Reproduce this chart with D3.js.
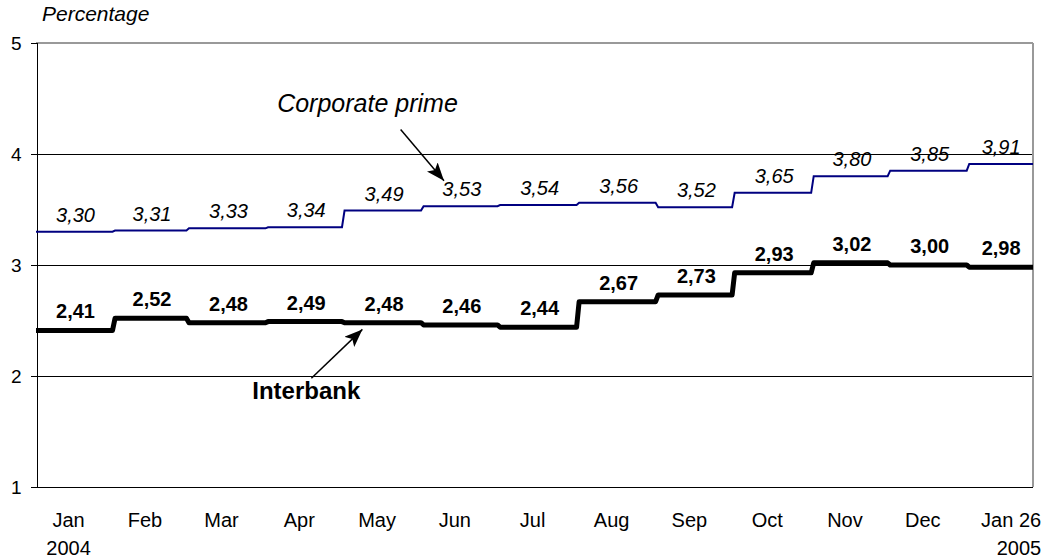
<!DOCTYPE html>
<html>
<head>
<meta charset="utf-8">
<script src="https://cdn.jsdelivr.net/npm/d3@7"></script>
<style>
  body { margin: 0; background: #fff; }
  svg { display: block; font-family: Arial, "Liberation Sans", sans-serif; }
</style>
</head>
<body>
<div id="chart"></div>
<script>
(function () {
  "use strict";

  /***** Data *****/
  var monthStarts = ["2004-01-01", "2004-02-01", "2004-03-01", "2004-04-01", "2004-05-01",
                     "2004-06-01", "2004-07-01", "2004-08-01", "2004-09-01", "2004-10-01",
                     "2004-11-01", "2004-12-01", "2005-01-01"];
  var lastDay = "2005-01-26";
  var monthLabels = ["Jan", "Feb", "Mar", "Apr", "May", "Jun", "Jul", "Aug", "Sep", "Oct", "Nov", "Dec", "Jan 26"];
  var corporatePrime = [3.30, 3.31, 3.33, 3.34, 3.49, 3.53, 3.54, 3.56, 3.52, 3.65, 3.80, 3.85, 3.91];
  var interbank = [2.41, 2.52, 2.48, 2.49, 2.48, 2.46, 2.44, 2.67, 2.73, 2.93, 3.02, 3.00, 2.98];
  var yTicks = [1, 2, 3, 4, 5];

  /***** Configuration *****/
  var width = 1053, height = 560;
  var margin = {top: 43, right: 20, bottom: 73, left: 36};
  var parse = d3.timeParse("%Y-%m-%d");
  var fmt = function (v) { return d3.format(".2f")(v).replace(".", ","); };

  var starts = monthStarts.map(parse);
  var end = parse(lastDay);

  var x = d3.scaleTime()
    .domain([starts[0], end])
    .range([margin.left, width - margin.right]);

  var y = d3.scaleLinear()
    .domain([1, 5])
    .range([height - margin.bottom, margin.top]);

  // each month: from its first day to its last day (daily data -> short slope between months)
  function monthEnd(i) {
    return i < starts.length - 1 ? d3.timeDay.offset(starts[i + 1], -1) : end;
  }
  function monthMid(i) {
    var a = starts[i], b = i < starts.length - 1 ? starts[i + 1] : end;
    return new Date((a.getTime() + b.getTime()) / 2);
  }
  function stepPoints(values) {
    var pts = [];
    values.forEach(function (v, i) {
      pts.push([starts[i], v]);
      pts.push([monthEnd(i), v]);
    });
    return pts;
  }

  var line = d3.line()
    .x(function (d) { return x(d[0]); })
    .y(function (d) { return y(d[1]); });

  /***** Elements *****/
  var svg = d3.select("#chart")
    .append("svg")
    .attr("width", width)
    .attr("height", height);

  var defs = svg.append("defs");
  defs.append("marker")
    .attr("id", "arrow")
    .attr("markerUnits", "userSpaceOnUse")
    .attr("markerWidth", 20)
    .attr("markerHeight", 14)
    .attr("refX", 18)
    .attr("refY", 7)
    .attr("orient", "auto")
    .append("path")
    .attr("d", "M0,0 L18,7 L0,14 L4,7 Z")
    .attr("fill", "#000");

  var plotL = x.range()[0], plotR = x.range()[1];
  var snap = function (v) { return Math.round(v) + 0.5; };

  // gridlines
  svg.append("g")
    .selectAll("line")
    .data(yTicks.filter(function (t) { return t > 1 && t < 5; }))
    .enter().append("line")
    .attr("x1", plotL).attr("x2", plotR)
    .attr("y1", function (d) { return snap(y(d)); })
    .attr("y2", function (d) { return snap(y(d)); })
    .attr("stroke", "#000")
    .attr("stroke-width", 1)
    .attr("shape-rendering", "crispEdges");

  // frame: grey top and right, black left and bottom
  svg.append("line")
    .attr("x1", plotL).attr("x2", plotR)
    .attr("y1", y(5)).attr("y2", y(5))
    .attr("stroke", "#999").attr("stroke-width", 2);
  svg.append("line")
    .attr("x1", plotR).attr("x2", plotR)
    .attr("y1", y(5)).attr("y2", y(1))
    .attr("stroke", "#999").attr("stroke-width", 2);
  svg.append("line")
    .attr("x1", plotL).attr("x2", plotR)
    .attr("y1", snap(y(1))).attr("y2", snap(y(1)))
    .attr("stroke", "#000").attr("stroke-width", 1)
    .attr("shape-rendering", "crispEdges");

  // y axis
  var yAxis = svg.append("g")
    .attr("transform", "translate(" + snap(plotL) + ",0)")
    .call(d3.axisLeft(y).tickValues(yTicks).tickSize(6).tickPadding(9).tickFormat(d3.format("d")));
  yAxis.attr("shape-rendering", "crispEdges");
  yAxis.select(".domain").attr("stroke", "#000").attr("stroke-width", 1);
  yAxis.selectAll(".tick line").attr("stroke", "#000");
  yAxis.selectAll("text")
    .attr("font-size", 19)
    .attr("font-family", "Arial, 'Liberation Sans', sans-serif")
    .attr("fill", "#000");

  svg.append("text")
    .attr("x", plotL + 6)
    .attr("y", 21)
    .attr("font-size", 21)
    .attr("font-style", "italic")
    .text("Percentage");

  // x labels at month middles
  var xLab = svg.append("g");
  xLab.selectAll("text")
    .data(monthLabels)
    .enter().append("text")
    .attr("x", function (d, i) { return x(monthMid(i)) - (i < 12 ? 7 : -10); })
    .attr("y", y(1) + 40)
    .attr("text-anchor", "middle")
    .attr("font-size", 20)
    .text(function (d) { return d; });

  svg.append("text")
    .attr("x", x(monthMid(0)) - 7)
    .attr("y", y(1) + 68)
    .attr("text-anchor", "middle")
    .attr("font-size", 20)
    .text("2004");
  var lastLab = xLab.selectAll("text").filter(function (d, i) { return i === 12; }).node().getBBox();
  svg.append("text")
    .attr("x", lastLab.x + lastLab.width)
    .attr("y", y(1) + 68)
    .attr("text-anchor", "end")
    .attr("font-size", 20)
    .text("2005");

  // series lines
  svg.append("path")
    .attr("d", line(stepPoints(corporatePrime)))
    .attr("fill", "none")
    .attr("stroke", "#000080")
    .attr("stroke-width", 2);

  svg.append("path")
    .attr("d", line(stepPoints(interbank)))
    .attr("fill", "none")
    .attr("stroke", "#000")
    .attr("stroke-width", 5)
    .attr("stroke-linejoin", "round");

  // value labels
  svg.append("g").selectAll("text")
    .data(corporatePrime)
    .enter().append("text")
    .attr("x", function (d, i) { return x(monthMid(i)); })
    .attr("y", function (d) { return y(d) - 10; })
    .attr("text-anchor", "middle")
    .attr("font-size", 20)
    .attr("font-style", "italic")
    .text(fmt);

  svg.append("g").selectAll("text")
    .data(interbank)
    .enter().append("text")
    .attr("x", function (d, i) { return x(monthMid(i)); })
    .attr("y", function (d) { return y(d) - 12; })
    .attr("text-anchor", "middle")
    .attr("font-size", 20)
    .attr("font-weight", "bold")
    .text(fmt);

  // annotations, placed in data coordinates
  var day0 = starts[0];
  function at(days, v) { return [x(d3.timeDay.offset(day0, days)), y(v)]; }

  var cpText = at(130, 4.38);
  svg.append("text")
    .attr("x", cpText[0]).attr("y", cpText[1])
    .attr("text-anchor", "middle")
    .attr("font-size", 25)
    .attr("font-style", "italic")
    .text("Corporate prime");
  var cpA = at(143, 4.22), cpB = at(160, 3.76);
  svg.append("line")
    .attr("x1", cpA[0]).attr("y1", cpA[1])
    .attr("x2", cpB[0]).attr("y2", cpB[1])
    .attr("stroke", "#000").attr("stroke-width", 1.5)
    .attr("marker-end", "url(#arrow)");

  var ibText = at(106, 1.79);
  svg.append("text")
    .attr("x", ibText[0]).attr("y", ibText[1])
    .attr("text-anchor", "middle")
    .attr("font-size", 24)
    .attr("font-weight", "bold")
    .text("Interbank");
  var ibA = at(108.5, 1.98), ibB = at(128.5, 2.42);
  svg.append("line")
    .attr("x1", ibA[0]).attr("y1", ibA[1])
    .attr("x2", ibB[0]).attr("y2", ibB[1])
    .attr("stroke", "#000").attr("stroke-width", 1.5)
    .attr("marker-end", "url(#arrow)");
})();
</script>
</body>
</html>
